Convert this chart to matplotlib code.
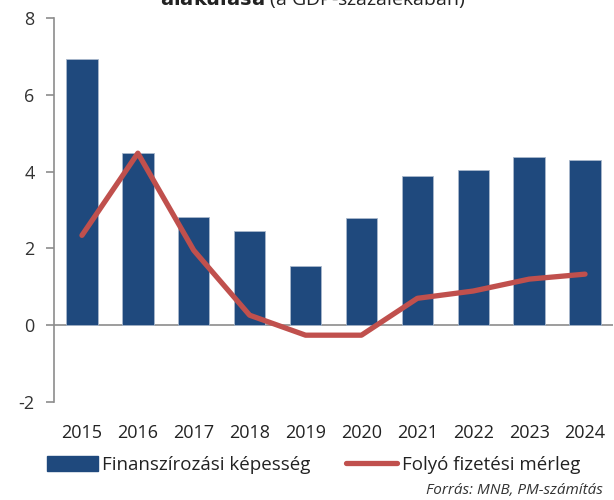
import numpy as np
import matplotlib.pyplot as plt
from matplotlib.patches import Patch
from matplotlib.lines import Line2D

plt.rcParams['font.family'] = ['Open Sans', 'DejaVu Sans']

years = ['2015', '2016', '2017', '2018', '2019', '2020', '2021', '2022', '2023', '2024']
finanszirozasi = [6.93, 4.48, 2.81, 2.45, 1.54, 2.79, 3.88, 4.04, 4.38, 4.30]
folyo = [2.34, 4.48, 1.95, 0.26, -0.26, -0.26, 0.70, 0.89, 1.20, 1.33]

bar_color = '#1F497D'
line_color = '#C0504D'
axis_color = '#8C8C8C'

fig = plt.figure(figsize=(6.14, 5.0), dpi=100)
ax = fig.add_axes([54 / 614, 98 / 500, 559 / 614, 384 / 500])

x = np.arange(len(years))
ax.bar(x, finanszirozasi, width=0.56, color=bar_color, edgecolor='#A9B8CC', linewidth=0.6, zorder=2)
ax.plot(x, folyo, color=line_color, linewidth=3.8, solid_capstyle='round', zorder=3)

ax.set_xlim(-0.5, len(years) - 0.5)
ax.set_ylim(-2, 8)
ax.set_yticks([-2, 0, 2, 4, 6, 8])
ax.set_yticklabels(['-2', '0', '2', '4', '6', '8'])
ax.axhline(0, color=axis_color, linewidth=1.2, zorder=1)

for s in ['top', 'right', 'bottom']:
    ax.spines[s].set_visible(False)
ax.spines['left'].set_color(axis_color)
ax.spines['left'].set_linewidth(1.2)
ax.tick_params(axis='y', direction='out', length=6, color=axis_color, width=1.2,
               labelsize=13, labelcolor='#333333', pad=8)
ax.set_xticks(x)
ax.set_xticklabels(years)
ax.tick_params(axis='x', length=0, labelsize=13, labelcolor='#222222', pad=16)

fig.text(0.51, 1 - 5 / 500, r'$\bf{alakulása}$ (a GDP-százalékában)', ha='center', va='baseline',
         fontsize=14, color='#222222')

handles = [Patch(facecolor=bar_color, edgecolor=bar_color),
           Line2D([0], [0], color=line_color, linewidth=3.8, solid_capstyle='round')]
fig.legend(handles, ['Finanszírozási képesség', 'Folyó fizetési mérleg'],
           loc='center left', bbox_to_anchor=(47 / 614, 1 - 465 / 500), ncol=2, frameon=False,
           borderpad=0, borderaxespad=0,
           fontsize=13.5, handlelength=2.7, handleheight=0.9, handletextpad=0.25, columnspacing=1.9,
           labelcolor='#222222')

fig.text(603 / 614, 1 - 490 / 500, 'Forrás: MNB, PM-számítás', ha='right', va='center',
         fontsize=11, style='italic', color='#333333')

fig.savefig('out.png', dpi=100)
